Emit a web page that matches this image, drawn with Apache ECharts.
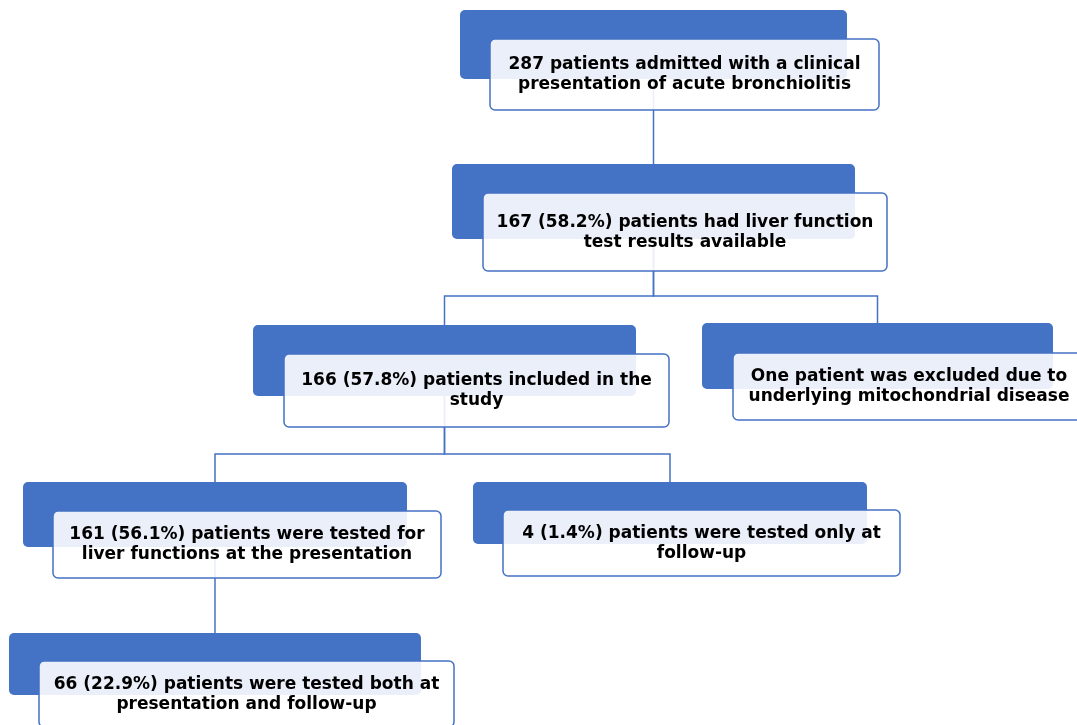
<!DOCTYPE html>
<html>
<head>
<meta charset="utf-8">
<script src="https://cdn.jsdelivr.net/npm/echarts@6/dist/echarts.min.js"></script>
<style>
  html, body { margin: 0; padding: 0; background: #fff; }
  #main { width: 1077px; height: 725px; }
</style>
</head>
<body>
<div id="main"></div>
<script>
// flowchart data
const labels = [
  '287 patients admitted with a clinical\npresentation of acute bronchiolitis',
  '167 (58.2%) patients had liver function\ntest results available',
  '166 (57.8%) patients included in the\nstudy',
  'One patient was excluded due to\nunderlying mitochondrial disease',
  '161 (56.1%) patients were tested for\nliver functions at the presentation',
  '4 (1.4%) patients were tested only at\nfollow-up',
  '66 (22.9%) patients were tested both at\npresentation and follow-up'
];
// [parent, child]
const links = [[0, 1], [1, 2], [1, 3], [2, 4], [2, 5], [4, 6]];

// layout in axis units (x0, y0, x1, y1)
const backBox = [
  [460, 10, 847, 79],
  [452, 164, 855, 239],
  [253, 325, 636, 396],
  [702, 323, 1053, 389],
  [23, 482, 407, 547],
  [473, 482, 867, 544],
  [9, 633, 421, 695]
];
const frontBox = [
  [490, 39, 879, 110],
  [483, 193, 887, 271],
  [284, 354, 669, 427],
  [733, 353, 1085, 420],
  [53, 511, 441, 578],
  [503, 510, 900, 576],
  [39, 661, 454, 727]
];

const BLUE = '#4472c4';

const nodeData = labels.map((t, i) => backBox[i].concat(frontBox[i]));

// elbow connectors between parent and child, one shared bus per parent
const linkData = links.map(([p, c]) => {
  const px = (backBox[p][0] + backBox[p][2]) / 2;
  const cx = (backBox[c][0] + backBox[c][2]) / 2;
  const childTop = Math.min(...links.filter(l => l[0] === p).map(l => backBox[l[1]][1]));
  const midY = Math.round((frontBox[p][3] + childTop) / 2) - 1;
  if (Math.abs(px - cx) < 2) {
    return {coords: [[px, backBox[p][3]], [cx, backBox[c][1]]]};
  }
  return {coords: [[px, backBox[p][3]], [px, midY], [cx, midY], [cx, backBox[c][1]]]};
});

const chart = echarts.init(document.getElementById('main'));

const rect = (api, x0, y0, x1, y1) => {
  const a = api.coord([x0, y0]);
  const b = api.coord([x1, y1]);
  return {x: a[0], y: a[1], width: b[0] - a[0], height: b[1] - a[1]};
};

chart.setOption({
  animation: false,
  grid: {left: 0, right: 0, top: 0, bottom: 0},
  xAxis: {type: 'value', min: 0, max: 1077, show: false},
  yAxis: {type: 'value', min: 0, max: 725, inverse: true, show: false},
  series: [
    {
      type: 'lines',
      coordinateSystem: 'cartesian2d',
      polyline: true,
      z: 1,
      lineStyle: {color: BLUE, width: 1.5, opacity: 1},
      data: linkData
    },
    {
      type: 'custom',
      z: 2,
      clip: false,
      encode: {x: [0, 2, 4, 6], y: [1, 3, 5, 7]},
      data: nodeData,
      renderItem: (params, api) => {
        const b = rect(api, api.value(0), api.value(1), api.value(2), api.value(3));
        const f = rect(api, api.value(4), api.value(5), api.value(6), api.value(7));
        return {
          type: 'group',
          children: [
            {type: 'rect', shape: Object.assign({r: 5}, b), style: {fill: BLUE}},
            {
              type: 'rect',
              shape: Object.assign({r: 5}, f),
              style: {fill: 'rgba(255,255,255,0.89)', stroke: BLUE, lineWidth: 1.5}
            },
            {
              type: 'text',
              x: f.x + f.width / 2,
              y: f.y + f.height / 2 + 0.5,
              style: {
                text: labels[params.dataIndex],
                align: 'center',
                verticalAlign: 'middle',
                fontFamily: 'DejaVu Sans',
                fontWeight: 'bold',
                fontSize: 17,
                lineHeight: 20,
                fill: '#000'
              }
            }
          ]
        };
      }
    }
  ]
});
</script>
</body>
</html>
